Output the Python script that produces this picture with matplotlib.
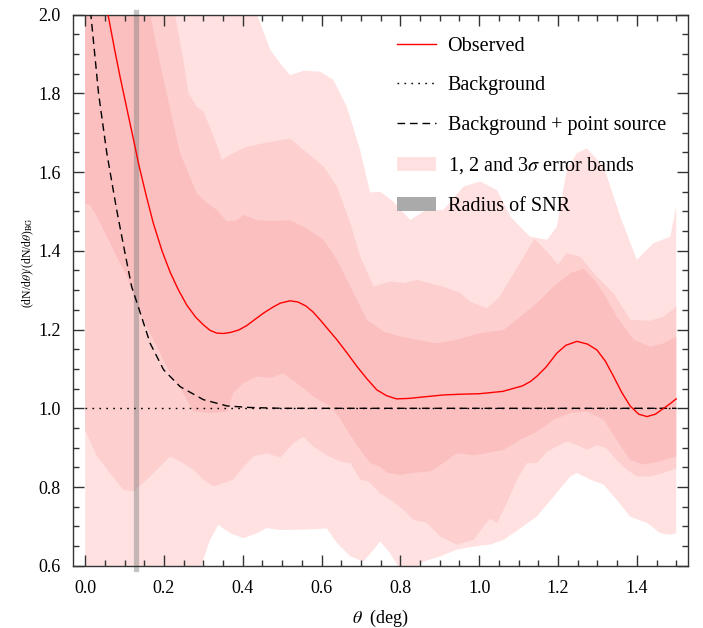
import numpy as np
import matplotlib
matplotlib.use("Agg")
import matplotlib.pyplot as plt
from matplotlib.lines import Line2D
from matplotlib.patches import Patch
from matplotlib.ticker import MultipleLocator, FormatStrFormatter

plt.rcParams["font.family"] = ["Liberation Serif", "DejaVu Serif"]
plt.rcParams["mathtext.fontset"] = "stix"

# observed profile
obs_x = [0.0, 0.03, 0.058, 0.075, 0.089, 0.105, 0.12, 0.137, 0.155, 0.173, 0.195, 0.216, 0.237,
         0.258, 0.28, 0.30, 0.317, 0.334, 0.352, 0.37, 0.39, 0.41, 0.43, 0.453, 0.475, 0.495,
         0.52, 0.54, 0.56, 0.578, 0.596, 0.617, 0.639, 0.665, 0.69, 0.715, 0.74, 0.765, 0.79,
         0.82, 0.85, 0.91, 0.96, 1.0, 1.06, 1.11, 1.13, 1.146, 1.17, 1.197, 1.22, 1.248, 1.275,
         1.299, 1.32, 1.341, 1.362, 1.383, 1.405, 1.426, 1.447, 1.468, 1.485, 1.5]
obs_y = [2.35, 2.15, 2.0, 1.91, 1.84, 1.765, 1.695, 1.615, 1.54, 1.47, 1.40, 1.345, 1.30,
         1.262, 1.232, 1.212, 1.198, 1.191, 1.19, 1.193, 1.199, 1.21, 1.225, 1.242, 1.256, 1.267,
         1.273, 1.27, 1.26, 1.245, 1.225, 1.2, 1.174, 1.14, 1.106, 1.075, 1.047, 1.032, 1.024,
         1.025, 1.028, 1.034, 1.036, 1.037, 1.043, 1.057, 1.068, 1.081, 1.105, 1.14, 1.16, 1.17,
         1.163, 1.148, 1.12, 1.081, 1.04, 1.006, 0.985, 0.979, 0.985, 1.0, 1.012, 1.024]

# background only
bg_x = [0.0, 1.5]
bg_y = [1.0, 1.0]

# background + point source
bgps_x = [0.0, 0.0145, 0.034, 0.055, 0.080, 0.100, 0.118, 0.140, 0.165, 0.199, 0.241, 0.30,
          0.36, 0.42, 0.5, 1.5]
bgps_y = [2.25, 2.0, 1.80, 1.648, 1.504, 1.40, 1.309, 1.242, 1.165, 1.098, 1.055, 1.022,
          1.006, 1.002, 1.0, 1.0]

# 3 sigma band
s3_up_x = [0.0, 0.40, 0.436, 0.47, 0.495, 0.52, 0.554, 0.596, 0.630, 0.664, 0.698, 0.723, 0.749,
           0.782, 0.825, 0.859, 0.909, 0.960, 1.003, 1.045, 1.079, 1.129, 1.172, 1.197, 1.222,
           1.248, 1.273, 1.316, 1.358, 1.40, 1.442, 1.485, 1.5]
s3_up_y = [2.3, 2.1, 2.0, 1.91, 1.876, 1.846, 1.857, 1.855, 1.834, 1.766, 1.656, 1.548, 1.550,
           1.525, 1.478, 1.50, 1.504, 1.563, 1.576, 1.554, 1.487, 1.436, 1.428, 1.461, 1.605,
           1.648, 1.660, 1.614, 1.487, 1.377, 1.419, 1.436, 1.512]
s3_lo_x = [0.0, 0.28, 0.30, 0.317, 0.338, 0.368, 0.402, 0.436, 0.461, 0.495, 0.554, 0.613, 0.639,
           0.673, 0.706, 0.732, 0.749, 0.774, 0.80, 0.833, 0.859, 0.901, 0.943, 0.986, 1.028,
           1.062, 1.104, 1.146, 1.189, 1.231, 1.248, 1.282, 1.316, 1.349, 1.383, 1.426, 1.459,
           1.485, 1.5]
s3_lo_y = [0.45, 0.55, 0.616, 0.666, 0.704, 0.683, 0.670, 0.683, 0.696, 0.691, 0.692, 0.695, 0.658,
           0.624, 0.611, 0.641, 0.662, 0.632, 0.59, 0.59, 0.611, 0.624, 0.641, 0.649, 0.654,
           0.666, 0.695, 0.725, 0.776, 0.827, 0.836, 0.819, 0.806, 0.768, 0.725, 0.709, 0.683,
           0.679, 0.683]

# 2 sigma band
s2_up_x = [0.0, 0.2, 0.228, 0.249, 0.262, 0.283, 0.30, 0.326, 0.347, 0.376, 0.410, 0.453, 0.495,
           0.520, 0.554, 0.605, 0.639, 0.673, 0.698, 0.732, 0.774, 0.808, 0.842, 0.909, 0.952,
           0.977, 1.019, 1.05, 1.08, 1.11, 1.14, 1.17, 1.20, 1.222, 1.256, 1.299, 1.341, 1.383,
           1.434, 1.468, 1.5]
s2_up_y = [2.3, 2.08, 2.0, 1.885, 1.80, 1.766, 1.753, 1.69, 1.631, 1.648, 1.664, 1.673, 1.681,
           1.685, 1.656, 1.614, 1.563, 1.47, 1.385, 1.309, 1.322, 1.318, 1.326, 1.309, 1.293,
           1.271, 1.254, 1.28, 1.33, 1.38, 1.43, 1.40, 1.365, 1.394, 1.385, 1.334, 1.292, 1.225,
           1.222, 1.233, 1.258]
s2_lo_x = [0.0, 0.030, 0.063, 0.097, 0.123, 0.157, 0.190, 0.216, 0.241, 0.275, 0.30, 0.326, 0.351,
           0.376, 0.402, 0.427, 0.461, 0.495, 0.529, 0.554, 0.579, 0.613, 0.647, 0.673, 0.698,
           0.719, 0.749, 0.782, 0.808, 0.833, 0.867, 0.901, 0.943, 0.986, 1.011, 1.028, 1.045,
           1.070, 1.096, 1.121, 1.146, 1.172, 1.222, 1.248, 1.273, 1.299, 1.324, 1.349, 1.375,
           1.40, 1.434, 1.468, 1.5]
s2_lo_y = [0.945, 0.878, 0.836, 0.793, 0.789, 0.819, 0.852, 0.878, 0.865, 0.844, 0.819, 0.802, 0.810,
           0.819, 0.852, 0.878, 0.886, 0.875, 0.912, 0.928, 0.903, 0.881, 0.865, 0.861, 0.819,
           0.814, 0.784, 0.763, 0.742, 0.717, 0.709, 0.675, 0.654, 0.666, 0.700, 0.720, 0.709,
           0.759, 0.819, 0.861, 0.861, 0.890, 0.916, 0.907, 0.895, 0.907, 0.898, 0.869, 0.844,
           0.827, 0.827, 0.836, 0.848]

# 1 sigma band
s1_up_x = [0.0, 0.14, 0.165, 0.19, 0.216, 0.241, 0.262, 0.283, 0.309, 0.334, 0.36, 0.385, 0.402,
           0.436, 0.47, 0.52, 0.554, 0.605, 0.639, 0.673, 0.715, 0.757, 0.80, 0.842, 0.893, 0.943,
           1.003, 1.062, 1.096, 1.146, 1.189, 1.231, 1.265, 1.299, 1.316, 1.349, 1.392, 1.434,
           1.468, 1.5]
s1_up_y = [2.3, 2.08, 2.0, 1.876, 1.758, 1.648, 1.597, 1.546, 1.521, 1.504, 1.474, 1.478, 1.491,
           1.478, 1.475, 1.478, 1.461, 1.428, 1.377, 1.309, 1.225, 1.195, 1.182, 1.174, 1.165,
           1.174, 1.191, 1.199, 1.225, 1.267, 1.309, 1.343, 1.355, 1.318, 1.292, 1.233, 1.174,
           1.157, 1.165, 1.182]
s1_lo_x = [0.0, 0.013, 0.030, 0.055, 0.080, 0.106, 0.140, 0.182, 0.216, 0.249, 0.275, 0.317, 0.36,
           0.376, 0.402, 0.436, 0.47, 0.503, 0.537, 0.579, 0.622, 0.647, 0.664, 0.698, 0.723,
           0.749, 0.766, 0.80, 0.833, 0.876, 0.909, 0.943, 0.986, 1.019, 1.062, 1.104, 1.146,
           1.189, 1.231, 1.273, 1.316, 1.349, 1.383, 1.417, 1.459, 1.5]
s1_lo_y = [1.52, 1.516, 1.487, 1.436, 1.385, 1.335, 1.24, 1.157, 1.089, 1.039, 0.992, 0.988, 0.992,
           1.039, 1.064, 1.081, 1.077, 1.089, 1.064, 1.030, 1.005, 0.975, 0.945, 0.895, 0.861,
           0.852, 0.836, 0.831, 0.836, 0.840, 0.861, 0.886, 0.881, 0.886, 0.895, 0.92, 0.94,
           0.971, 0.988, 0.992, 0.971, 0.919, 0.869, 0.857, 0.865, 0.878]

snr_radius = 0.13

band_colors = ["#ffe1e1", "#fdcfcf", "#fcbfbf"]
bands = [
    (s3_up_x, s3_up_y, s3_lo_x, s3_lo_y),
    (s2_up_x, s2_up_y, s2_lo_x, s2_lo_y),
    (s1_up_x, s1_up_y, s1_lo_x, s1_lo_y),
]

fig = plt.figure(figsize=(7.03, 6.28), dpi=100)
ax = fig.add_axes([0.1043, 0.0990, 0.8744, 0.8779])

for (ux, uy, lx, ly), color in zip(bands, band_colors):
    px = np.concatenate([ux, lx[::-1]])
    py = np.concatenate([uy, ly[::-1]])
    ax.fill(px, py, color=color, lw=0, zorder=1)

ax.axvline(snr_radius, ymin=-0.006, ymax=1.005, color="0.5", alpha=0.45, lw=3.8,
           clip_on=False, zorder=2)

ax.plot(bg_x, bg_y, color="black", lw=1.0, linestyle=(0, (1.2, 3.8)), zorder=3)
ax.plot(bgps_x, bgps_y, color="black", lw=1.0, linestyle=(0, (5.5, 3.5)), zorder=3)
ax.plot(obs_x, obs_y, color="red", lw=1.0, zorder=4)

ax.set_xlim(-0.03, 1.53)
ax.set_ylim(0.6, 2.0)
ax.xaxis.set_major_locator(MultipleLocator(0.2))
ax.xaxis.set_minor_locator(MultipleLocator(0.05))
ax.yaxis.set_major_locator(MultipleLocator(0.2))
ax.yaxis.set_minor_locator(MultipleLocator(0.05))
ax.xaxis.set_major_formatter(FormatStrFormatter("%.1f"))
ax.yaxis.set_major_formatter(FormatStrFormatter("%.1f"))
ax.tick_params(which="both", direction="in", top=True, right=True, color="0.2", width=1.0)
ax.tick_params(which="major", length=8, labelsize=13)
ax.tick_params(axis="x", which="major", pad=10)
ax.tick_params(axis="y", which="major", pad=9)
ax.tick_params(which="minor", length=4.5)
for spine in ax.spines.values():
    spine.set_color("0.2")
    spine.set_linewidth(1.0)

ax.set_xlabel(r"$\theta$  (deg)", fontsize=13, labelpad=8)
ax.set_ylabel(r"(dN/d$\theta$)/(dN/d$\theta$)$_{\rm BG}$", fontsize=8.5)
ax.yaxis.set_label_coords(-0.06, 0.55)

handles = [
    Line2D([], [], color="red", lw=1.0),
    Line2D([], [], color="black", lw=1.0, linestyle=(0, (1.2, 3.8))),
    Line2D([], [], color="black", lw=1.0, linestyle=(0, (5.5, 3.5))),
    Patch(color=band_colors[0], lw=0),
    Patch(color="#aaaaaa", lw=0),
]
labels = ["Observed", "Background", "Background + point source",
          "1, 2 and 3$\\sigma$ error bands", "Radius of SNR"]
ax.legend(handles, labels, loc="upper left", bbox_to_anchor=(0.527, 0.96), frameon=False,
          fontsize=14.5, borderaxespad=0, borderpad=0, handlelength=1.9, handletextpad=0.6,
          labelspacing=1.02)

fig.savefig("out.png", dpi=100)
